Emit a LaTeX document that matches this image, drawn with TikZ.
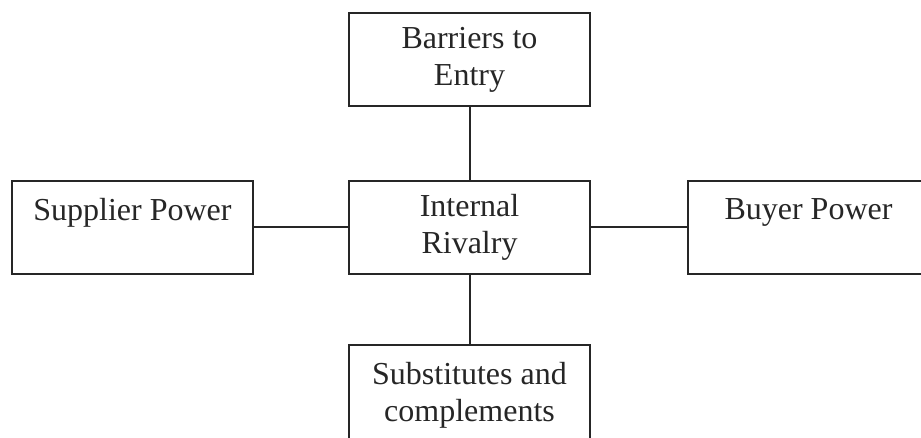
\documentclass[tikz,border=0pt]{standalone}
\usepackage{fontspec}
\setmainfont{Liberation Serif}

\begin{document}
\begin{tikzpicture}[x=0.5pt, y=-0.5pt, node distance=168.5pt, force/.style={rectangle, draw=black!85, line width=1pt, minimum width=120.5pt, minimum height=46.5pt, inner sep=0pt, align=center, text=black!85, font=\fontsize{16}{18.5}\selectfont}, link/.style={draw=black!85, line width=1pt}]
  {
  \useasboundingbox (0,0) rectangle (921,438);
  \node[force] (rivalry) at (469.5,227.5) {Internal\\Rivalry};
  \node[force, left of=rivalry] (supplier) {Supplier Power\\\mbox{}};
  \node[force, right of=rivalry, node distance=169.5pt] (buyer) {Buyer Power\\\mbox{}};
  \node[force, above of=rivalry, node distance=84pt] (entry) {Barriers to\\Entry};
  \node[force, below of=rivalry, node distance=83.75pt, minimum height=50pt] (subst) {Substitutes and\\complements};

  \draw[link] (rivalry) -- (entry);
  \draw[link] (rivalry) -- (subst);
  \draw[link] (rivalry) -- (supplier);
  \draw[link] (rivalry) -- (buyer);
}
\end{tikzpicture}
\end{document}
